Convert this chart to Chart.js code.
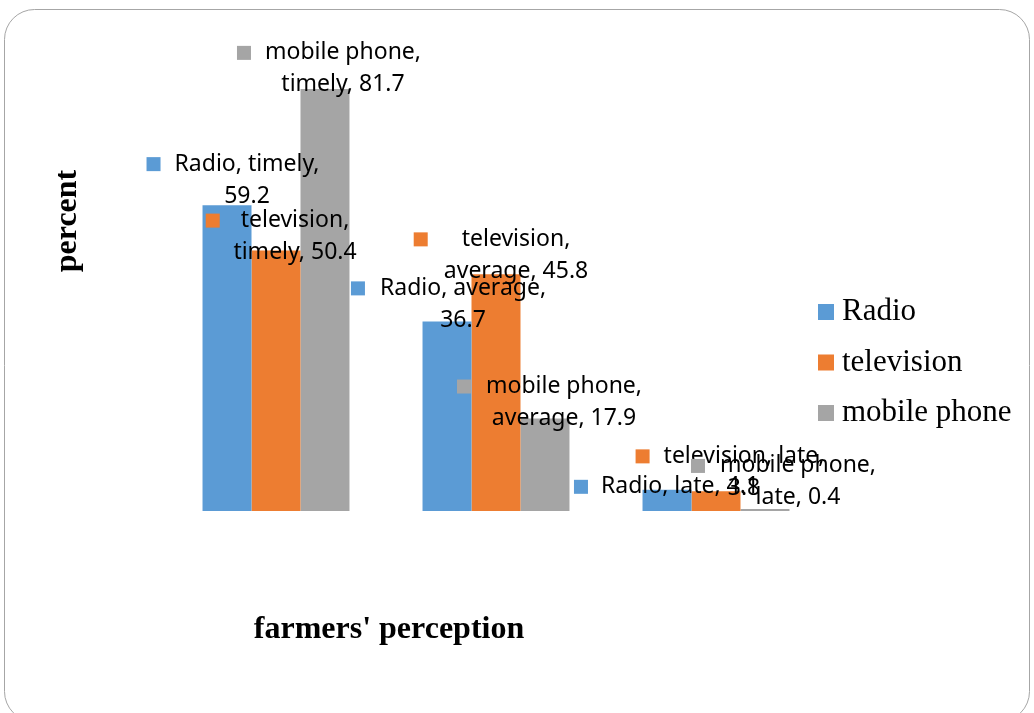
<!DOCTYPE html>
<html>
<head>
<meta charset="utf-8">
<script src="https://cdn.jsdelivr.net/npm/chart.js@4"></script>
<style>
  html, body { margin: 0; padding: 0; background: #fff; }
  canvas { display: block; }
</style>
</head>
<body>
<canvas id="myChart" width="1034" height="713"></canvas>
<script>
// farmers' perception of information by source (percent)
const categories = ["timely", "average", "late"];
const seriesNames = ["Radio", "television", "mobile phone"];
const radioData = [59.2, 36.7, 4.1];
const tvData = [50.4, 45.8, 3.8];
const mobileData = [81.7, 17.9, 0.4];

const colors = ["#5B9BD5", "#ED7D31", "#A5A5A5"];

// label placement per bar: dx/dy of first line centre from bar top,
// sq = key square offset from the text's left edge, brk = where the text wraps
const labelLayout = [
  [{ dx: 20, dy: -41, sq: -28, brk: "category" },
   { dx: 16, dy: -33, sq: -29, brk: "category" },
   { dx: 13, dy: -3, sq: -27, brk: "none" }],
  [{ dx: 19, dy: -30, sq: -35, brk: "series" },
   { dx: 20, dy: -35, sq: -48, brk: "series" },
   { dx: 28, dy: -35, sq: -28, brk: "category" }],
  [{ dx: 18, dy: -36, sq: -28, brk: "series" },
   { dx: 19, dy: -32, sq: -29, brk: "series" },
   { dx: 33, dy: -43, sq: -29, brk: "series" }]
];

const labelFont = '23px "Noto Sans"';

const framePlugin = {
  id: "frame",
  beforeDraw(chart) {
    const c = chart.ctx;
    c.save();
    c.fillStyle = "#fff";
    c.fillRect(0, 0, chart.width, chart.height);
    c.strokeStyle = "#a6a6a6";
    c.lineWidth = 1;
    c.beginPath();
    c.roundRect(4.5, 9.5, 1025, 712, 30);
    c.stroke();
    c.restore();
  }
};

const barLabels = {
  id: "barLabels",
  afterDatasetsDraw(chart) {
    const c = chart.ctx;
    c.save();
    c.font = labelFont;
    c.textBaseline = "middle";
    c.textAlign = "center";
    chart.data.datasets.forEach((ds, di) => {
      const meta = chart.getDatasetMeta(di);
      meta.data.forEach((bar, i) => {
        const lay = labelLayout[di][i];
        const val = ds.data[i].toFixed(1);
        let lines;
        if (lay.brk === "series") lines = [ds.label + ",", categories[i] + ", " + val];
        else if (lay.brk === "category") lines = [ds.label + ", " + categories[i] + ",", val];
        else lines = [ds.label + ", " + categories[i] + ", " + val];
        const cx = bar.x + lay.dx;
        const cy = bar.y + lay.dy;
        const w = c.measureText(lines[0]).width;
        c.fillStyle = colors[di];
        c.fillRect(cx - w / 2 + lay.sq, cy - 7, 14, 14);
        c.fillStyle = "#000";
        lines.forEach((t, k) => c.fillText(t, cx, cy + k * 32));
      });
    });
    c.restore();
  }
};

const sideText = {
  id: "sideText",
  afterDraw(chart) {
    const c = chart.ctx;
    c.save();
    c.fillStyle = "#000";
    c.textAlign = "center";
    c.textBaseline = "middle";
    c.font = 'bold 32px "Liberation Serif"';
    c.fillText("farmers' perception", 389, 630);
    c.translate(68, 221);
    c.rotate(-Math.PI / 2);
    c.fillText("percent", 0, 0);
    c.restore();

    // legend on the right
    c.save();
    c.font = '31px "Liberation Serif"';
    c.textAlign = "left";
    c.textBaseline = "middle";
    chart.data.datasets.forEach((ds, di) => {
      const y = 312 + di * 50.5;
      c.fillStyle = colors[di];
      c.fillRect(818, y - 8, 16, 16);
      c.fillStyle = "#000";
      c.fillText(ds.label, 842, y);
    });
    c.restore();
  }
};

const ctx = document.getElementById("myChart");
const myChart = new Chart(ctx, {
  type: "bar",
  data: {
    labels: categories,
    datasets: [
      { label: seriesNames[0], data: radioData, backgroundColor: colors[0] },
      { label: seriesNames[1], data: tvData, backgroundColor: colors[1] },
      { label: seriesNames[2], data: mobileData, backgroundColor: colors[2] }
    ]
  },
  options: {
    responsive: false,
    animation: false,
    devicePixelRatio: 1,
    layout: { padding: { left: 166, right: 208, top: 46, bottom: 202 } },
    datasets: {
      bar: { barPercentage: 1, categoryPercentage: 0.668, borderWidth: 0 }
    },
    scales: {
      x: { display: false },
      y: { display: false, min: 0, max: 90 }
    },
    plugins: {
      legend: { display: false },
      tooltip: { enabled: false }
    }
  },
  plugins: [framePlugin, barLabels, sideText]
});
</script>
</body>
</html>
